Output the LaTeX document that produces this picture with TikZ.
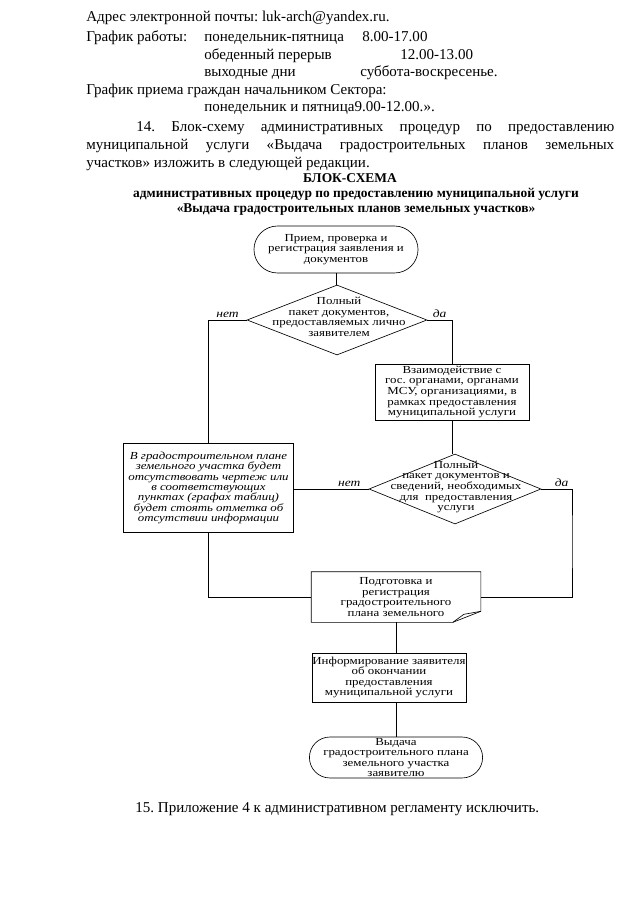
\documentclass[tikz,border=0pt]{standalone}
\usepackage{fontspec}
\setmainfont{Liberation Serif}
\newfontfamily\fcfam{Liberation Serif}[FakeStretch=1.2]
\usetikzlibrary{shapes.geometric,shapes.misc}
\frenchspacing
\begin{document}
\begin{tikzpicture}[x=0.9302pt,y=-0.9302pt,line width=0.6pt,
  body/.style={anchor=base west, inner sep=0, font=\fontsize{14}{16}\selectfont},
  head/.style={anchor=base, inner sep=0, font=\fontsize{12.5}{14}\selectfont\bfseries},
  fcfont/.style={font=\fcfam\fontsize{10}{9.8}\selectfont},
  box/.style={draw, rectangle, fcfont, align=center, inner sep=0},
  term/.style={draw, rounded rectangle, fcfont, align=center, inner sep=0},
  dia/.style={draw, diamond, inner sep=0},
  dtext/.style={fcfont, align=center, inner sep=0},
  lab/.style={font=\fcfam\fontsize{10.5}{12}\selectfont\itshape, inner sep=1.5pt, above}]
\useasboundingbox (0,0) rectangle (640,905);
\fill[white] (0,0) rectangle (640,905);
% text above
\node[body] (l1) at (86,22) {Адрес электронной почты: luk-arch@yandex.ru.};
\node[body] (l2a) at (86,41.5) {График работы:};
\node[body] (l2b) at (204,41.5) {понедельник-пятница};
\node[body] (l2c) at (362,41.5) {8.00-17.00};
\node[body] (l3a) at (204,59.5) {обеденный перерыв};
\node[body] (l3b) at (400,59.5) {12.00-13.00};
\node[body] (l4a) at (204,77) {выходные дни};
\node[body] (l4b) at (360,77) {суббота-воскресенье.};
\node[body] (l5) at (86,94.5) {График приема граждан начальником Сектора:};
\node[body] (l6) at (204,112) {понедельник и пятница9.00-12.00.».};
\node[body] (p1) at (136,131.5) {\makebox[444.6pt][s]{14. Блок-схему административных процедур по предоставлению}};
\node[body] (p2) at (86,149.5) {\makebox[491.1pt][s]{муниципальной услуги «Выдача градостроительных планов земельных}};
\node[body] (p3) at (86,167.5) {участков» изложить в следующей редакции.};
\node[head] (h1) at (350,182) {БЛОК-СХЕМА};
\node[head] (h2) at (356,197) {административных процедур по предоставлению муниципальной услуги};
\node[head] (h3) at (356,212) {«Выдача градостроительных планов земельных участков»};
% flowchart
\node[term, minimum width=152.6pt, minimum height=43.7pt] (start) at (336,249.5) {Прием, проверка и\\регистрация заявления и\\документов};
\node[dia, minimum width=167.4pt, minimum height=65.1pt] (d1) at (337,320) {};
\node[dtext] (d1t) at (339,317) {Полный\\пакет документов,\\предоставляемых лично\\заявителем};
\node[box, minimum width=143.3pt, minimum height=52.1pt] (inter) at (452,392) {Взаимодействие с\\гос. органами, органами\\МСУ, организациями, в\\рамках предоставления\\муниципальной услуги};
\node[dia, minimum width=160pt, minimum height=65.1pt] (d2) at (455,489) {};
\node[dtext] (d2t) at (456,487) {Полный\\пакет документов и\\сведений, необходимых\\для\ \ предоставления\\услуги};
\node[box, font=\fcfam\fontsize{10}{9.6}\selectfont\itshape, minimum width=158.1pt, minimum height=82.8pt] (left) at (208.5,488) {В градостроительном плане\\земельного участка будет\\отсутствовать чертеж или\\в соответствующих\\пунктах (графах таблиц)\\будет стоять отметка об\\отсутствии информации};
\node[fcfont, align=center, inner sep=0, minimum width=157.2pt, minimum height=46.5pt] (prep) at (396,597) {Подготовка и\\регистрация\\градостроительного\\плана земельного};
\draw (prep.north west) -- (prep.north east) -- ([shift={(0,-11)}]prep.south east) -- ([shift={(-28,0)}]prep.south east) -- (prep.south west) -- cycle;
\draw ([shift={(-28,0)}]prep.south east) -- ([shift={(-17,-8)}]prep.south east) -- ([shift={(0,-11)}]prep.south east);
\node[box, minimum width=143.3pt, minimum height=45.6pt] (info) at (389,677.5) {Информирование заявителя\\об окончании\\предоставления\\муниципальной услуги};
\node[term, minimum width=151.6pt, minimum height=38.1pt] (fin) at (396,757.5) {Выдача\\градостроительного плана\\земельного участка\\заявителю};
% connectors
\draw (start.south) -- (start.south |- d1.north);
\draw (d1.west) -| node[lab, pos=0.25] {нет} (left.north);
\draw (d1.east) -| node[lab, pos=0.25] {да} (inter.north);
\draw (inter.south) -- (inter.south |- d2.north);
\draw (d2.west) -- node[lab, pos=0.26] {нет} (d2.west -| left.east);
\coordinate (rc) at (572,540);
\draw (d2.east) -| node[lab, pos=0.33] {да} (rc) |- (prep.east);
\draw (left.south) |- (prep.west);
\draw (prep.south) -- (prep.south |- info.north);
\draw (fin.north |- info.south) -- (fin.north);
% final text
\node[body] (l15) at (135,812) {15. Приложение 4 к административном регламенту исключить.};
\end{tikzpicture}
\end{document}
